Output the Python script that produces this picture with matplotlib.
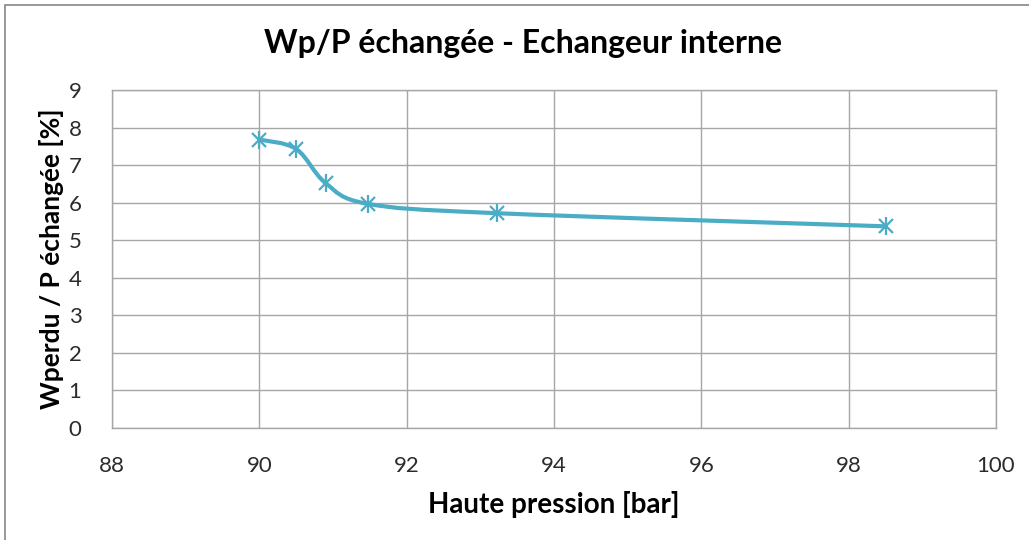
import numpy as np
import matplotlib
matplotlib.use("Agg")
import matplotlib.pyplot as plt
from matplotlib.path import Path
from matplotlib.patches import PathPatch, Rectangle

# Haute pression [bar] vs. Wperdu / P echangee [%]
haute_pression = [90.0, 90.5, 90.9, 91.47, 93.22, 98.5]
wp_ratio = [7.68, 7.43, 6.52, 5.97, 5.72, 5.37]

line_color = '#4BACC6'
grid_color = '#A6A6A6'
text_color = '#2B2B2B'

plt.rcParams['font.family'] = ['Lato', 'DejaVu Sans']

fig = plt.figure(figsize=(10.29, 5.40), dpi=100)
ax = fig.add_axes([112 / 1029, 1 - 428 / 540, (996 - 112) / 1029, (428 - 90) / 540])

# Smoothed curve through the points (Bezier segments, Catmull-Rom style control points)
pts = np.column_stack([haute_pression, wp_ratio])
n = len(pts)
verts = [pts[0]]
codes = [Path.MOVETO]
for i in range(n - 1):
    p_prev = pts[i - 1] if i > 0 else pts[i]
    p_next2 = pts[i + 2] if i + 2 < n else pts[i + 1]
    c1 = pts[i] + (pts[i + 1] - p_prev) / 6.0
    c2 = pts[i + 1] - (p_next2 - pts[i]) / 6.0
    verts += [c1, c2, pts[i + 1]]
    codes += [Path.CURVE4] * 3
curve = PathPatch(Path(verts, codes), facecolor='none', edgecolor=line_color,
                  linewidth=3.0, capstyle='round', joinstyle='round', zorder=3)
ax.add_patch(curve)

# Asterisk markers: an x with a vertical bar
ax.plot(haute_pression, wp_ratio, linestyle='none', marker='x', markersize=10,
        markeredgewidth=1.6, color=line_color, zorder=4)
ax.plot(haute_pression, wp_ratio, linestyle='none', marker='|', markersize=13,
        markeredgewidth=1.6, color=line_color, zorder=4)

ax.set_xlim(88, 100)
ax.set_ylim(0, 9)
ax.set_xticks(np.arange(88, 101, 2))
ax.set_yticks(np.arange(0, 10, 1))
ax.grid(True, color=grid_color, linewidth=1.0)
ax.set_axisbelow(True)
for side in ax.spines.values():
    side.set_color(grid_color)
    side.set_linewidth(1.0)
ax.tick_params(length=0, labelsize=16, labelcolor=text_color)
ax.tick_params(axis='y', pad=22)
ax.tick_params(axis='x', pad=20)

ax.set_xlabel('Haute pression [bar]', fontsize=20, fontweight='bold', labelpad=11)
ax.set_ylabel('Wperdu / P échangée [%]', fontsize=19, fontweight='bold', labelpad=3)
fig.text(0.5 + 8 / 1029, 1 - 43 / 540, 'Wp/P échangée - Echangeur interne',
         ha='center', va='center', fontsize=23, fontweight='bold')

# Outer chart border
fig.patches.append(Rectangle((5 / 1029, -0.05), 1.1, 1.05 - 5 / 540,
                             transform=fig.transFigure, fill=False,
                             edgecolor='#868686', linewidth=1.2))

fig.savefig('out.png', dpi=100)
